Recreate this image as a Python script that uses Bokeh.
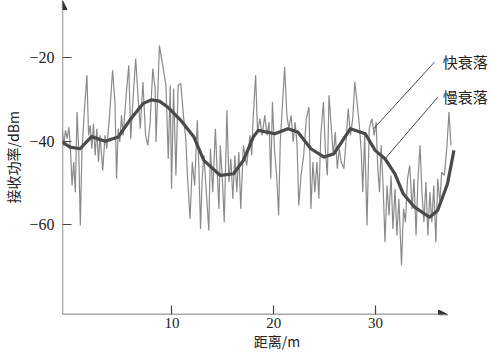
from bokeh.plotting import figure
from bokeh.models import Arrow, NormalHead, Label, FixedTicker, Range1d
from bokeh.embed import file_html
from bokeh.resources import INLINE

# ---- data ----
fast_x = [-0.78, -0.62, -0.46, -0.29, -0.13, 0.03, 0.19, 0.35, 0.51, 0.68, 0.84, 1.0, 1.16, 1.39,
          1.65, 1.81, 1.97, 2.13, 2.29, 2.46, 2.62, 2.78, 2.94, 3.2, 3.43, 3.59, 3.85, 4.17, 4.4,
          4.56, 4.72, 4.88, 5.05, 5.21, 5.53, 5.76, 5.95, 6.18, 6.44, 6.66, 6.89, 7.15, 7.41,
          7.63, 7.86, 8.12, 8.35,
          8.44, 8.77, 9.09, 9.41, 9.64, 9.83, 9.96, 10.16, 10.39, 10.61, 10.87, 11.13, 11.36,
          11.52, 11.78, 12.0, 12.23, 12.49, 12.65, 12.81, 12.97, 13.14, 13.4, 13.62, 13.78,
          14.01, 14.27, 14.43, 14.62, 14.75, 14.95, 15.14, 15.4, 15.6, 15.79, 15.98, 16.18,
          16.37, 16.57, 16.76, 17.02, 17.34,
          17.67, 17.83, 17.99, 18.22, 18.41, 18.64, 18.86, 19.12, 19.35, 19.54, 19.71, 19.87,
          20.09, 20.29, 20.48, 20.64, 20.87, 21.07, 21.29, 21.49, 21.71, 21.91, 22.1, 22.29,
          22.46, 22.68, 22.94, 23.2, 23.46, 23.65, 23.85, 24.04, 24.24, 24.43, 24.62, 24.88,
          25.08, 25.27, 25.43, 25.66, 25.85, 26.05, 26.24, 26.44, 26.63,
          26.89, 27.12, 27.31, 27.54, 27.76, 27.96, 28.18, 28.41, 28.6, 28.74, 28.93, 29.16,
          29.38, 29.64, 29.87, 30.06, 30.22, 30.39, 30.55, 30.74, 30.93, 31.13, 31.32, 31.52,
          31.71, 31.91, 32.1, 32.29, 32.55, 32.75, 32.94, 33.14, 33.36, 33.59, 33.78, 33.98,
          34.17, 34.37, 34.56, 34.75, 34.95, 35.14, 35.34, 35.53, 35.72, 35.92, 36.11, 36.31,
          36.5, 36.76, 37.02, 37.21, 37.41]
fast_y = [-37.0, -41.0, -37.4, -39.4, -36.6, -41.8, -50.6, -45.0, -52.2, -33.0, -41.8, -60.2,
          -42.6, -33.0, -24.2, -38.6, -36.2, -41.8, -35.8, -43.4, -37.0, -45.0, -38.6, -47.0,
          -38.6, -41.8, -34.6, -23.0, -30.6, -49.0, -37.0, -40.2, -33.8, -38.6, -28.2, -21.8,
          -39.4, -29.8, -20.2, -29.0, -37.0, -25.8, -38.6, -41.0, -35.4, -22.6, -27.4,
          -40.2, -17.1, -21.8, -26.6, -44.2, -26.6, -51.4, -27.4, -48.2, -26.6, -26.2, -33.8,
          -39.4, -48.2, -58.6, -45.0, -50.6, -35.0, -46.6, -61.0, -49.0, -43.4, -53.0, -61.4,
          -41.8, -52.2, -37.0, -46.6, -56.2, -41.0, -49.0, -59.4, -32.6, -49.8, -44.2, -53.8,
          -43.4, -52.2, -42.6, -56.2, -41.0, -45.8,
          -38.6, -43.4, -33.8, -24.2, -37.8, -34.6, -38.6, -33.8, -38.6, -35.4, -49.0, -30.6,
          -42.6, -48.2, -57.8, -40.2, -30.6, -22.2, -33.8, -37.0, -33.8, -40.2, -35.4, -41.0,
          -55.4, -48.2, -43.4, -34.6, -31.8, -56.2, -45.0, -52.2, -45.0, -53.8, -38.6, -30.6,
          -42.6, -48.2, -29.0, -37.0, -43.4, -37.8, -46.6, -41.8, -45.0,
          -46.6, -39.4, -32.2, -38.6, -34.6, -25.8, -30.6, -36.2, -42.6, -52.2, -38.6, -60.2,
          -37.0, -34.6, -38.6, -35.4, -46.6, -52.2, -41.0, -50.6, -64.2, -50.6, -57.8, -48.2,
          -61.0, -51.4, -62.6, -53.8, -69.7, -56.2, -59.4, -49.0, -45.8, -56.2, -49.0, -62.6,
          -49.0, -41.0, -52.2, -59.4, -49.8, -62.6, -52.2, -59.4, -50.6, -64.2, -49.0, -54.6,
          -47.4, -48.2, -41.0, -33.0, -41.0]

slow_x = [-0.78, 0.0, 0.98, 2.1, 3.43, 4.72, 5.85, 7.15, 7.96, 8.77, 9.57, 10.87, 12.16, 13.13,
          14.75, 16.05, 17.02, 17.99, 18.48, 20.1, 21.39, 22.36, 23.65, 24.95, 25.92, 27.21,
          27.53, 28.99, 29.96, 30.93, 31.9, 32.72, 33.84, 35.3, 36.1, 37.07, 37.7]
slow_y = [-40.2, -41.4, -41.8, -38.9, -40.0, -39.0, -35.0, -31.0, -30.1, -30.4, -31.8, -35.0,
          -39.0, -44.6, -48.2, -47.8, -44.6, -39.0, -37.4, -38.2, -37.0, -37.8, -41.8, -43.8,
          -43.0, -38.2, -37.0, -38.2, -42.2, -44.2, -47.8, -52.6, -55.8, -58.2, -56.6, -50.2,
          -42.2]

x_ticks = [10, 20, 30]
y_ticks = [-60, -40, -20]

labels = ["快衰落", "慢衰落"]
label_x = [36.6, 36.6]
label_y = [-21.0, -29.4]
leader_start_x = [35.79, 36.12]
leader_start_y = [-21.05, -29.44]
leader_end_x = [29.81, 30.93]
leader_end_y = [-37.0, -44.2]

x_title = "距离/m"
y_title = "接收功率/dBm"

# ---- chart ----
x0, x1 = -0.75, 41.39
y0, y1 = -81.5, -6.3
x_arrow_end = 37.08

p = figure(width=491, height=353, x_range=Range1d(x0, x1), y_range=Range1d(y0, y1),
           output_backend="svg", toolbar_location=None,
           min_border_left=57, min_border_right=0, min_border_top=0, min_border_bottom=39)
p.outline_line_color = None
p.grid.visible = False
p.background_fill_color = "white"

p.line(fast_x, fast_y, line_color="#8a8a8a", line_width=1.2)
p.line(slow_x, slow_y, line_color="#4a4a4a", line_width=3.2, line_join="round")

for sx, sy, ex, ey in zip(leader_start_x, leader_start_y, leader_end_x, leader_end_y):
    p.line([sx, ex], [sy, ey], line_color="#333333", line_width=0.9)

serif = "Liberation Serif"
cjk = "Noto Sans CJK SC"

for ax in (p.xaxis[0], p.yaxis[0]):
    ax.axis_line_color = None
    ax.major_tick_in = 9
    ax.major_tick_out = 0
    ax.minor_tick_line_color = None
    ax.major_tick_line_color = "#444444"
    ax.major_tick_line_width = 1.2
    ax.major_label_text_font = serif
    ax.major_label_text_font_size = "15px"
    ax.major_label_text_color = "#222222"
    ax.axis_label_text_font = cjk
    ax.axis_label_text_font_size = "14px"
    ax.axis_label_text_font_style = "normal"
    ax.axis_label_text_color = "#222222"

p.xaxis.ticker = FixedTicker(ticks=x_ticks)
p.yaxis.ticker = FixedTicker(ticks=y_ticks)
p.yaxis.major_label_overrides = {t: ("\u2212" + str(abs(t))) for t in y_ticks}
p.yaxis.major_label_text_font_size = "16px"
p.xaxis.major_label_standoff = 3
p.yaxis.major_label_standoff = 8

p.yaxis.axis_label = y_title
p.yaxis.axis_label_standoff = 3
p.xaxis.axis_label = x_title
p.xaxis.axis_label_standoff = 0

# axis arrows
p.add_layout(Arrow(end=NormalHead(size=9, fill_color="#333333", line_color="#333333"),
                   x_start=x0, y_start=y0, x_end=x0, y_end=y1,
                   line_color="#555555", line_width=1.3))
p.add_layout(Arrow(end=NormalHead(size=9, fill_color="#333333", line_color="#333333"),
                   x_start=x0, y_start=y0, x_end=x_arrow_end, y_end=y0,
                   line_color="#555555", line_width=1.3))

for t, lx, ly in zip(labels, label_x, label_y):
    p.add_layout(Label(x=lx, y=ly, text=t, text_font=cjk, text_font_size="15px",
                       text_baseline="middle", text_align="left", text_color="#222222"))

open("out.html", "w").write(file_html(p, INLINE))
